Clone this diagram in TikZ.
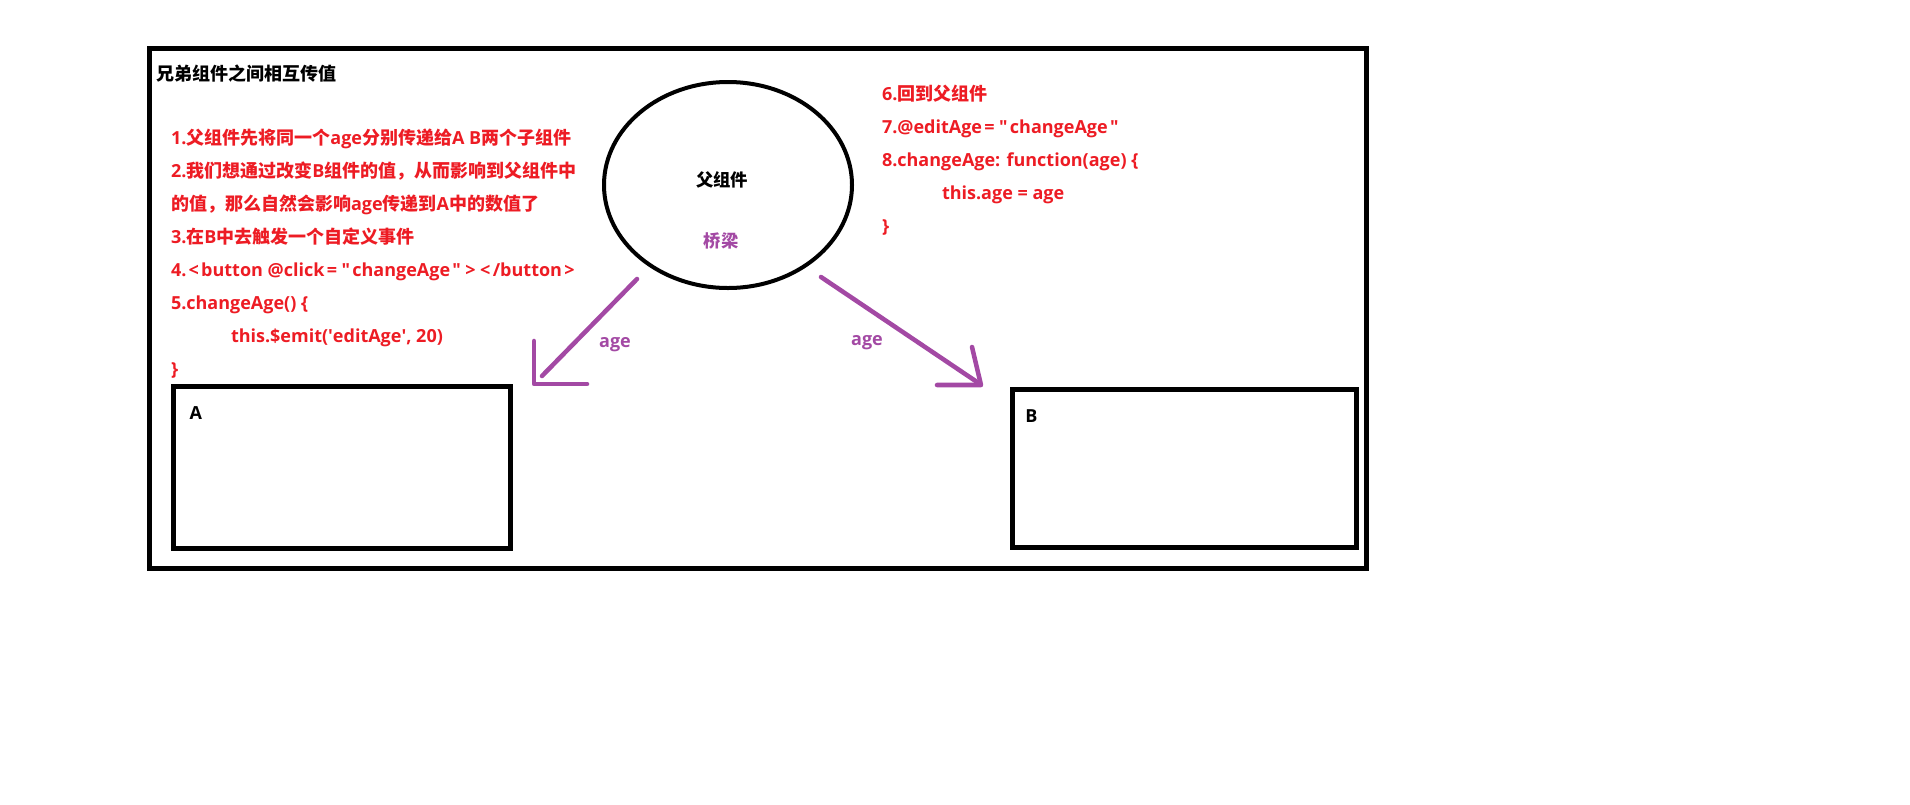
\documentclass[tikz,border=0pt]{standalone}
\usepackage{fontspec}
\setmainfont{Open Sans}
\newfontfamily\cjk{Noto Sans CJK SC}
\usetikzlibrary{shapes.geometric,positioning}
\definecolor{paintred}{RGB}{237,28,36}
\definecolor{paintpurple}{RGB}{163,73,164}
\newcommand\wsym[1]{\kern1.7pt#1\kern1.7pt}
\newcommand\dq{\wsym{\textquotedbl}}

\begin{document}
\begin{tikzpicture}[x=0.75pt,y=-0.75pt,
            every node/.style={inner sep=0pt,outer sep=0pt},
            bigfont/.style={font=\bfseries\fontsize{13.5}{16}\selectfont},
            note/.style={bigfont,anchor=base west,text=paintred},
            comp/.style={draw,line width=3.75pt,anchor=north west},
            bridge/.style={paintpurple,line width=3.4pt,line cap=round,line join=round}]
            \useasboundingbox (0,0) rectangle (1910,804);
            \draw[line width=3.75pt] (149,48) rectangle (1366,568);
            \node[bigfont,anchor=base west] (title) at (156,80) {\cjk 兄弟组件之间相互传值};

            % left notes
            \node[note] (l1) at (171,144) {1.{\cjk 父组件先将同一个}age{\cjk 分别传递给}A B{\cjk 两个子组件}};
            \node[note] (l2) at (171,177) {2.{\cjk 我们想通过改变}B{\cjk 组件的值，从而影响到父组件中}};
            \node[note] (l3) at (171,210) {{\cjk 的值，那么自然会影响}age{\cjk 传递到}A{\cjk 中的数值了}};
            \node[note] (l4) at (171,243) {3.{\cjk 在}B{\cjk 中去触发一个自定义事件}};
            \node[note] (l5) at (171,276) {4.\wsym{<}button @click\wsym{=}\dq changeAge\dq\wsym{>}\wsym{<}/button\wsym{>}};
            \node[note] (l6) at (171,309) {5.changeAge() \{};
            \node[note] (l7) at (231,342) {this.\$emit(\textquotesingle editAge\textquotesingle, 20)};
            \node[note] (l8) at (171,375) {\}};

            % right notes
            \node[note] (r1) at (882,100) {6.{\cjk 回到父组件}};
            \node[note] (r2) at (882,133) {7.@editAge\wsym{=}\dq changeAge\dq};
            \node[note] (r3) at (882,166) {8.changeAge: function(age) \{};
            \node[note] (r4) at (942,199) {this.age = age};
            \node[note] (r5) at (882,232) {\}};

            % parent
            \node[ellipse,draw,line width=3pt,minimum width=186pt,minimum height=154.5pt] (parent) at (728,185) {};
            \node[font=\bfseries\fontsize{13}{15}\selectfont] (parentname) at (722,180) {\cjk 父组件};
            \node[font=\bfseries\fontsize{13}{15}\selectfont,text=paintpurple] (bridgename) at (721,241) {\cjk 桥梁};

            % children
            \node[comp,minimum width=252.75pt,minimum height=121.5pt] (compA) at (173,386) {};
            \node[comp,minimum width=258pt,minimum height=118.5pt] (compB) at (1012,389) {};
            \node[bigfont,below right=15.5pt and 12.5pt of compA.north west] (nameA) {A};
            \node[bigfont,below right=15.5pt and 10pt of compB.north west] (nameB) {B};

            % age to A and B
            \coordinate (srcA) at (637,279);
            \coordinate (endA) at (542,376);
            \coordinate (tipA) at (534,384);
            \coordinate (barbA1) at (534,341);
            \coordinate (barbA2) at (587,384);
            \coordinate (srcB) at (821,277);
            \coordinate (endB) at (980,384);
            \coordinate (tipB) at (981,385);
            \coordinate (barbB1) at (972,347);
            \coordinate (barbB2) at (937,385);
            \draw[bridge] (srcA) -- (endA);
            \draw[bridge] (barbA1) -- (tipA) -- (barbA2);
            \draw[bridge] (srcB) -- (endB);
            \draw[bridge] (barbB1) -- (tipB) -- (barbB2);
            \node[bigfont,text=paintpurple] (ageA) at (615,345) {age};
            \node[bigfont,text=paintpurple] (ageB) at (867,343) {age};
\end{tikzpicture}
\end{document}
